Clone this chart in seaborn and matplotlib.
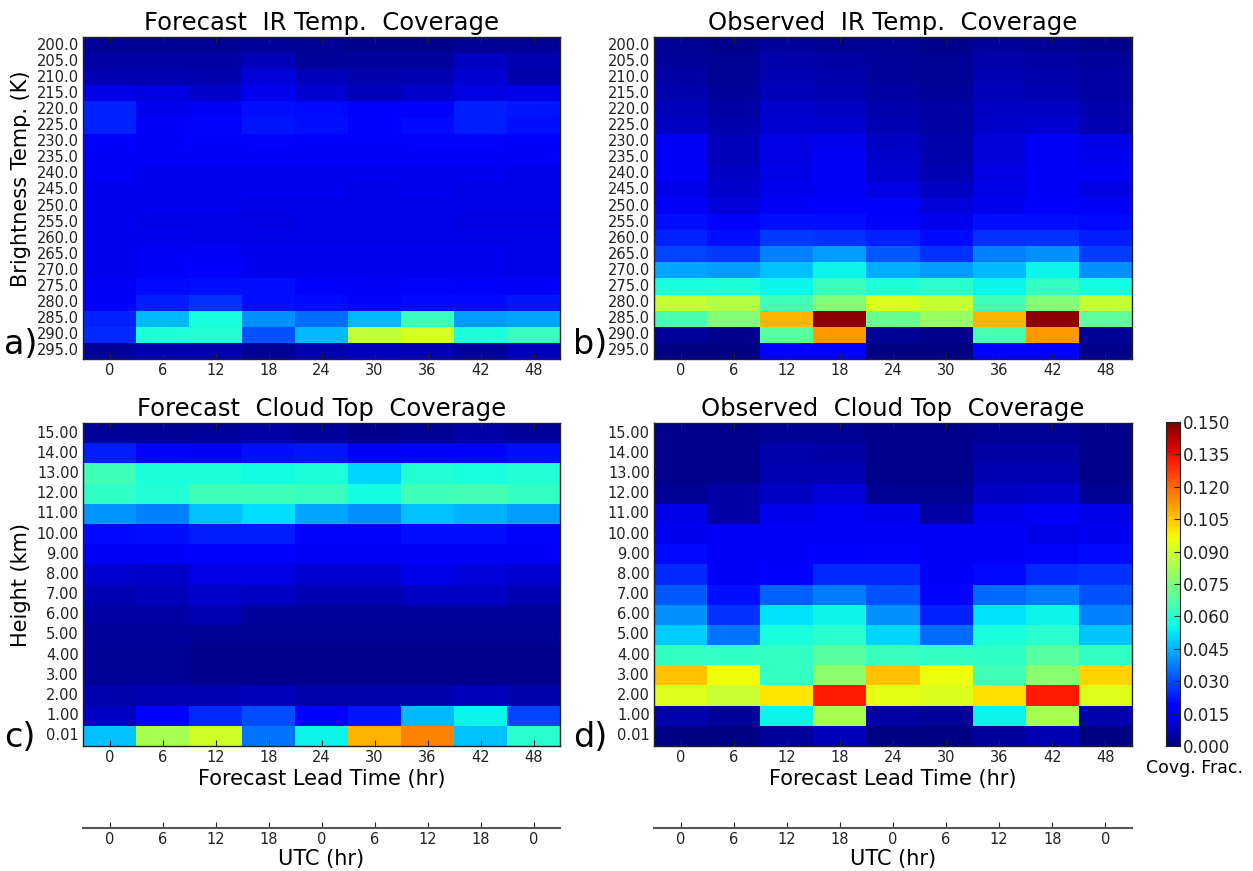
import numpy as np
import pandas as pd
import matplotlib
matplotlib.use("Agg")
import matplotlib.pyplot as plt
import seaborn as sns

lead_times = [0, 6, 12, 18, 24, 30, 36, 42, 48]
utc_labels = ["0", "6", "12", "18", "0", "6", "12", "18", "0"]
temp_labels = ["%.1f" % t for t in [200, 205, 210, 215, 220, 225, 230, 235, 240, 245,
                                     250, 255, 260, 265, 270, 275, 280, 285, 290, 295]]
height_labels = ["15.00", "14.00", "13.00", "12.00", "11.00", "10.00", "9.00", "8.00",
                 "7.00", "6.00", "5.00", "4.00", "3.00", "2.00", "1.00", "0.01"]

# rows top -> bottom, columns = lead times
fcst_ir = [
    [0.003, 0.003, 0.003, 0.004, 0.003, 0.002, 0.002, 0.003, 0.003],
    [0.005, 0.005, 0.005, 0.008, 0.004, 0.004, 0.004, 0.009, 0.007],
    [0.007, 0.007, 0.006, 0.012, 0.008, 0.006, 0.007, 0.011, 0.006],
    [0.014, 0.013, 0.010, 0.015, 0.011, 0.008, 0.010, 0.013, 0.014],
    [0.024, 0.015, 0.016, 0.021, 0.020, 0.017, 0.017, 0.023, 0.022],
    [0.024, 0.016, 0.019, 0.022, 0.021, 0.017, 0.020, 0.023, 0.021],
    [0.017, 0.016, 0.018, 0.019, 0.017, 0.017, 0.019, 0.019, 0.017],
    [0.016, 0.016, 0.016, 0.016, 0.016, 0.016, 0.016, 0.016, 0.016],
    [0.016, 0.015, 0.015, 0.015, 0.015, 0.015, 0.015, 0.015, 0.014],
    [0.015, 0.015, 0.015, 0.015, 0.015, 0.014, 0.015, 0.014, 0.014],
    [0.015, 0.015, 0.015, 0.014, 0.014, 0.014, 0.014, 0.014, 0.014],
    [0.015, 0.014, 0.014, 0.013, 0.014, 0.014, 0.014, 0.013, 0.013],
    [0.015, 0.015, 0.014, 0.014, 0.014, 0.014, 0.014, 0.014, 0.014],
    [0.015, 0.016, 0.016, 0.015, 0.015, 0.015, 0.015, 0.015, 0.014],
    [0.015, 0.016, 0.017, 0.015, 0.015, 0.015, 0.015, 0.015, 0.014],
    [0.016, 0.020, 0.021, 0.021, 0.017, 0.016, 0.019, 0.018, 0.016],
    [0.016, 0.023, 0.026, 0.021, 0.020, 0.019, 0.020, 0.020, 0.022],
    [0.024, 0.046, 0.057, 0.040, 0.035, 0.046, 0.063, 0.042, 0.043],
    [0.025, 0.058, 0.059, 0.031, 0.046, 0.087, 0.091, 0.058, 0.063],
    [0.004, 0.006, 0.006, 0.003, 0.006, 0.008, 0.007, 0.004, 0.008],
]

obs_ir = [
    [0.003, 0.002, 0.004, 0.003, 0.003, 0.002, 0.004, 0.003, 0.002],
    [0.004, 0.003, 0.006, 0.005, 0.004, 0.003, 0.006, 0.005, 0.004],
    [0.005, 0.003, 0.007, 0.006, 0.004, 0.003, 0.007, 0.006, 0.005],
    [0.006, 0.004, 0.008, 0.007, 0.005, 0.004, 0.008, 0.007, 0.005],
    [0.008, 0.005, 0.010, 0.009, 0.006, 0.005, 0.009, 0.009, 0.006],
    [0.009, 0.006, 0.011, 0.011, 0.007, 0.005, 0.010, 0.011, 0.007],
    [0.016, 0.008, 0.013, 0.015, 0.009, 0.006, 0.012, 0.016, 0.014],
    [0.016, 0.008, 0.013, 0.016, 0.010, 0.006, 0.012, 0.016, 0.015],
    [0.016, 0.009, 0.014, 0.016, 0.011, 0.007, 0.013, 0.016, 0.016],
    [0.014, 0.010, 0.015, 0.016, 0.013, 0.009, 0.014, 0.016, 0.013],
    [0.016, 0.012, 0.016, 0.018, 0.017, 0.012, 0.015, 0.018, 0.016],
    [0.021, 0.017, 0.021, 0.021, 0.019, 0.015, 0.021, 0.021, 0.020],
    [0.024, 0.021, 0.027, 0.026, 0.024, 0.020, 0.026, 0.026, 0.023],
    [0.029, 0.027, 0.038, 0.042, 0.032, 0.026, 0.038, 0.040, 0.028],
    [0.043, 0.042, 0.047, 0.055, 0.044, 0.042, 0.046, 0.055, 0.040],
    [0.057, 0.058, 0.055, 0.063, 0.058, 0.060, 0.055, 0.062, 0.056],
    [0.088, 0.085, 0.064, 0.076, 0.092, 0.088, 0.064, 0.076, 0.088],
    [0.066, 0.076, 0.108, 0.148, 0.072, 0.080, 0.108, 0.148, 0.070],
    [0.004, 0.002, 0.068, 0.112, 0.003, 0.002, 0.066, 0.112, 0.003],
    [0.001, 0.001, 0.017, 0.017, 0.001, 0.001, 0.017, 0.017, 0.002],
]

fcst_ct = [
    [0.004, 0.003, 0.004, 0.005, 0.004, 0.002, 0.003, 0.005, 0.004],
    [0.023, 0.019, 0.016, 0.021, 0.022, 0.016, 0.018, 0.017, 0.021],
    [0.064, 0.058, 0.058, 0.056, 0.058, 0.050, 0.059, 0.057, 0.059],
    [0.061, 0.059, 0.064, 0.064, 0.063, 0.056, 0.064, 0.065, 0.062],
    [0.041, 0.038, 0.047, 0.051, 0.043, 0.040, 0.047, 0.045, 0.042],
    [0.020, 0.021, 0.023, 0.023, 0.019, 0.019, 0.021, 0.021, 0.019],
    [0.016, 0.016, 0.017, 0.017, 0.016, 0.016, 0.016, 0.016, 0.016],
    [0.011, 0.010, 0.013, 0.013, 0.011, 0.011, 0.014, 0.012, 0.011],
    [0.007, 0.008, 0.010, 0.009, 0.007, 0.007, 0.009, 0.009, 0.007],
    [0.005, 0.005, 0.007, 0.004, 0.004, 0.004, 0.004, 0.004, 0.004],
    [0.004, 0.004, 0.003, 0.003, 0.003, 0.003, 0.003, 0.003, 0.003],
    [0.003, 0.003, 0.002, 0.002, 0.002, 0.002, 0.002, 0.002, 0.002],
    [0.003, 0.003, 0.002, 0.002, 0.002, 0.002, 0.002, 0.002, 0.002],
    [0.006, 0.007, 0.007, 0.008, 0.006, 0.006, 0.006, 0.008, 0.006],
    [0.009, 0.017, 0.025, 0.030, 0.017, 0.022, 0.046, 0.055, 0.029],
    [0.047, 0.083, 0.090, 0.036, 0.055, 0.108, 0.116, 0.047, 0.060],
]

obs_ct = [
    [0.002, 0.002, 0.003, 0.003, 0.002, 0.002, 0.003, 0.003, 0.002],
    [0.002, 0.002, 0.006, 0.005, 0.002, 0.002, 0.005, 0.005, 0.002],
    [0.002, 0.002, 0.007, 0.007, 0.002, 0.002, 0.007, 0.007, 0.002],
    [0.003, 0.005, 0.009, 0.012, 0.003, 0.003, 0.009, 0.010, 0.003],
    [0.014, 0.005, 0.015, 0.016, 0.015, 0.005, 0.015, 0.016, 0.014],
    [0.015, 0.016, 0.016, 0.016, 0.016, 0.016, 0.016, 0.014, 0.015],
    [0.020, 0.016, 0.016, 0.018, 0.019, 0.016, 0.016, 0.019, 0.020],
    [0.025, 0.016, 0.017, 0.025, 0.025, 0.016, 0.020, 0.025, 0.026],
    [0.032, 0.021, 0.033, 0.037, 0.031, 0.019, 0.034, 0.037, 0.031],
    [0.040, 0.026, 0.052, 0.055, 0.040, 0.024, 0.052, 0.055, 0.038],
    [0.049, 0.036, 0.057, 0.060, 0.050, 0.035, 0.057, 0.060, 0.048],
    [0.062, 0.061, 0.062, 0.068, 0.063, 0.062, 0.061, 0.068, 0.062],
    [0.105, 0.096, 0.062, 0.078, 0.106, 0.095, 0.064, 0.077, 0.103],
    [0.093, 0.089, 0.100, 0.132, 0.094, 0.092, 0.101, 0.132, 0.093],
    [0.006, 0.004, 0.055, 0.083, 0.005, 0.004, 0.055, 0.083, 0.006],
    [0.001, 0.001, 0.004, 0.008, 0.001, 0.001, 0.004, 0.007, 0.001],
]

plt.rcParams['font.family'] = ['DejaVu Sans']
W, H = 1253, 871
fig = plt.figure(figsize=(W / 100, H / 100), dpi=100)

def fx(px):
    return px / W

def fy(py):
    return 1 - py / H

panels = [
    (fcst_ir, temp_labels, "Forecast  IR Temp.  Coverage", (83, 37, 560, 359), "a)", "Brightness Temp. (K)", False),
    (obs_ir, temp_labels, "Observed  IR Temp.  Coverage", (654, 37, 1132, 359), "b)", None, False),
    (fcst_ct, height_labels, "Forecast  Cloud Top  Coverage", (83, 423, 560, 746), "c)", "Height (km)", True),
    (obs_ct, height_labels, "Observed  Cloud Top  Coverage", (654, 423, 1132, 746), "d)", None, True),
]

cax = fig.add_axes([fx(1166), fy(746), fx(1180) - fx(1166), fy(422) - fy(746)])

for i, (data, ylabels, title, (l, t, r, b), letter, ylab, bottom) in enumerate(panels):
    ax = fig.add_axes([fx(l), fy(b), fx(r) - fx(l), fy(t) - fy(b)])
    df = pd.DataFrame(np.array(data), index=ylabels, columns=lead_times)
    sns.heatmap(df, ax=ax, cmap="jet", vmin=0, vmax=0.15,
                cbar=(i == 3), cbar_ax=cax if i == 3 else None,
                xticklabels=lead_times, yticklabels=ylabels)
    for s in ax.spines.values():
        s.set_visible(True)
        s.set_color("#222222")
        s.set_linewidth(1.0)
    ax.set_title(title, fontsize=17.5, pad=5)
    ax.tick_params(axis="x", direction="in", length=4, top=True, bottom=True,
                   labelsize=10.5, pad=3, colors="#222222")
    ax.tick_params(axis="y", length=0, labelsize=10.5, pad=3, colors="#222222")
    plt.setp(ax.get_yticklabels(), rotation=0)
    plt.setp(ax.get_xticklabels(), rotation=0)
    if ylab:
        ax.set_ylabel(ylab, fontsize=15)
        if i == 0:
            ax.yaxis.set_label_coords(-0.11, 0.56)
        else:
            ax.yaxis.set_label_coords(-0.11, 0.5)
    else:
        ax.set_ylabel("")
    if bottom:
        ax.set_xlabel("Forecast Lead Time (hr)", fontsize=15, labelpad=3)
    else:
        ax.set_xlabel("")
    lx = 4 if letter in ("a)", "c)") else 573
    ly = 345 if letter in ("a)", "b)") else 737
    fig.text(fx(lx), fy(ly), letter, fontsize=24, ha="left", va="center")

    if bottom:
        uax = fig.add_axes([fx(l), fy(828), fx(r) - fx(l), 0.001])
        uax.set_xlim(0, len(lead_times))
        uax.set_ylim(0, 1)
        uax.set_xticks(np.arange(len(lead_times)) + 0.5)
        uax.set_xticklabels(utc_labels)
        uax.set_yticks([])
        for side in ("top", "left", "right"):
            uax.spines[side].set_visible(False)
        uax.spines["bottom"].set_color("#555555")
        uax.spines["bottom"].set_linewidth(1.5)
        uax.patch.set_visible(False)
        uax.tick_params(axis="x", direction="in", length=4, labelsize=10.5, pad=3,
                        colors="#222222")
        uax.set_xlabel("UTC (hr)", fontsize=15, labelpad=1)

cax.set_yticks(np.arange(0, 0.1501, 0.015))
cax.set_yticklabels(["%.3f" % v for v in np.arange(0, 0.1501, 0.015)])
cax.tick_params(labelsize=12, length=4, direction="in", colors="#222222", pad=2)
for s in cax.spines.values():
    s.set_visible(True)
    s.set_color("#222222")
fig.text(fx(1194), fy(768), "Covg. Frac.", fontsize=12.5, ha="center", va="center")

fig.savefig("out.png", dpi=100)
